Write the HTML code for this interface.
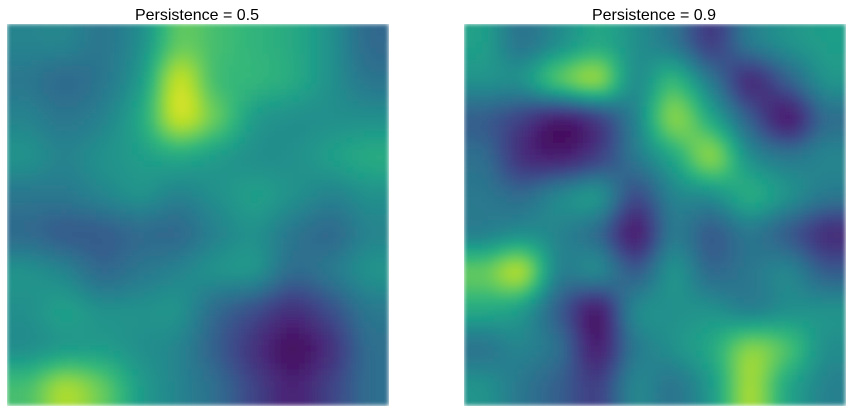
<!DOCTYPE html>
<html><head><meta charset="utf-8">
<style>
html,body{margin:0;padding:0;background:#fff;width:851px;height:412px;overflow:hidden;}
svg{display:block;overflow:hidden;font-family:"Liberation Sans",sans-serif;}
</style></head>
<body>
<svg id="chart" width="851" height="412" viewBox="0 0 851 412">
  <defs>
    <filter id="blur" x="0" y="0" width="1" height="1">
      <feGaussianBlur stdDeviation="2"/>
    </filter>
  </defs>
  <text x="197" y="20" text-anchor="middle" font-size="16" fill="#000">Persistence = 0.5</text>
  <text x="654" y="20" text-anchor="middle" font-size="16" fill="#000">Persistence = 0.9</text>
  <g id="gL"></g>
  <g id="gR"></g>
</svg>
<script>
const leftValues = [
[0.45,0.45,0.40,0.50,0.75,0.70,0.65,0.60,0.50,0.35],
[0.40,0.35,0.40,0.55,0.90,0.70,0.65,0.60,0.50,0.40],
[0.45,0.40,0.45,0.60,0.90,0.75,0.55,0.50,0.50,0.50],
[0.50,0.45,0.50,0.55,0.60,0.55,0.50,0.50,0.55,0.60],
[0.40,0.40,0.45,0.50,0.45,0.50,0.55,0.50,0.45,0.50],
[0.35,0.30,0.30,0.35,0.35,0.45,0.50,0.40,0.35,0.45],
[0.50,0.45,0.35,0.40,0.45,0.50,0.50,0.35,0.40,0.50],
[0.50,0.55,0.50,0.50,0.50,0.35,0.25,0.15,0.25,0.40],
[0.50,0.55,0.55,0.50,0.45,0.30,0.15,0.05,0.15,0.35],
[0.70,0.85,0.75,0.55,0.45,0.35,0.20,0.10,0.20,0.35]
];
const rightValues = [
[0.55,0.40,0.50,0.60,0.50,0.40,0.20,0.40,0.50,0.55],
[0.50,0.50,0.70,0.80,0.50,0.65,0.40,0.15,0.30,0.50],
[0.30,0.20,0.10,0.20,0.45,0.80,0.60,0.30,0.10,0.35],
[0.35,0.15,0.10,0.20,0.40,0.60,0.80,0.50,0.40,0.45],
[0.40,0.35,0.45,0.50,0.25,0.45,0.50,0.60,0.50,0.40],
[0.45,0.50,0.45,0.35,0.10,0.40,0.30,0.40,0.30,0.15],
[0.75,0.85,0.45,0.45,0.30,0.50,0.35,0.40,0.45,0.30],
[0.60,0.55,0.30,0.10,0.45,0.50,0.50,0.45,0.50,0.50],
[0.40,0.45,0.35,0.10,0.40,0.50,0.60,0.80,0.70,0.50],
[0.50,0.40,0.30,0.20,0.45,0.40,0.55,0.85,0.60,0.45]
];
const viridis=[[68,1,84],[72,40,120],[62,73,137],[49,104,142],[38,130,142],[31,158,137],[53,183,121],[109,205,89],[180,222,44],[253,231,37]];
function color(v){v=Math.max(0,Math.min(1,v));const p=v*(viridis.length-1),i=Math.min(Math.floor(p),viridis.length-2),t=p-i;
const a=viridis[i],b=viridis[i+1];return `rgb(${a.map((c,k)=>Math.round(c+(b[k]-c)*t)).join(',')})`;}
function cr(p0,p1,p2,p3,t){return 0.5*((2*p1)+(-p0+p2)*t+(2*p0-5*p1+4*p2-p3)*t*t+(-p0+3*p1-3*p2+p3)*t*t*t);}
function sample(vals,u,v){
  const n=vals.length,cl=i=>Math.max(0,Math.min(n-1,i));
  const i=Math.floor(u),j=Math.floor(v),tu=u-i,tv=v-j,rows=[];
  for(let k=-1;k<=2;k++){const r=vals[cl(j+k)];rows.push(cr(r[cl(i-1)],r[cl(i)],r[cl(i+1)],r[cl(i+2)],tu));}
  return cr(rows[0],rows[1],rows[2],rows[3],tv);
}
function draw(id,vals,x0,y0,size,prefix){
  const g=document.getElementById(id);const n=vals.length,res=64,s=size/res;
  const sub=document.createElementNS('http://www.w3.org/2000/svg','g');
  sub.setAttribute('filter','url(#blur)');
  g.appendChild(sub);
  for(let r=0;r<res;r++)for(let c=0;c<res;c++){
    const u=((c+0.5)/res)*n-0.5,v=((r+0.5)/res)*n-0.5;
    const val=sample(vals,u,v);
    const el=document.createElementNS('http://www.w3.org/2000/svg','rect');
    el.setAttribute('x',(x0+c*s).toFixed(2));el.setAttribute('y',(y0+r*s).toFixed(2));
    el.setAttribute('width',(s+0.6).toFixed(2));el.setAttribute('height',(s+0.6).toFixed(2));
    el.setAttribute('fill',color(val));
    
    
    sub.appendChild(el);
  }
}
draw('gL',leftValues,7,24,381,'left-heatmap');
draw('gR',rightValues,464,24,381,'right-heatmap');
</script>
</body></html>
